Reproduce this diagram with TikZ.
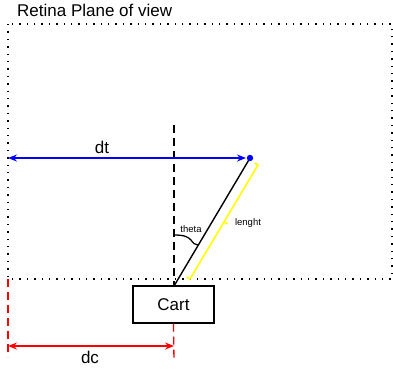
\documentclass[tikz,border=0pt]{standalone}
\usepackage{fontspec}
\setmainfont{Liberation Sans}
\usetikzlibrary{arrows.meta}
\tikzset{
  x=1pt,y=-1pt,
  dotline/.style={line width=1.6pt,dash pattern=on 1.4pt off 6pt},
  dashline/.style={line width=1.3pt,dash pattern=on 8pt off 5pt},
  lbl/.style={font=\fontsize{17}{19}\selectfont,inner sep=0pt},
  small/.style={font=\fontsize{9.5}{11}\selectfont,inner sep=0pt},
  arr/.style={line width=1.5pt,{Stealth[length=9pt,width=7pt,inset=3pt]}-{Stealth[length=9pt,width=7pt,inset=3pt]}},
}
\definecolor{myblue}{RGB}{0,0,255}
\definecolor{myred}{RGB}{255,0,0}
\definecolor{myyellow}{RGB}{255,255,0}
\begin{document}
\begin{tikzpicture}
\useasboundingbox (0,0) rectangle (393,368);
% retina plane
\draw[dotline] (8,24) rectangle (392,279);
\node[lbl,anchor=base west] (title) at (17,16) {Retina Plane of view};
% cart
\node[draw,line width=1.3pt,minimum width=81pt,minimum height=37pt,inner sep=0pt,lbl] (cart) at (173.5,304.5) {Cart};
% dashed vertical axis
\coordinate (axtop) at (174,125);
\coordinate (pivot) at (174,286);
\draw[dashline] (axtop) -- (pivot);
% pole
\coordinate (tip) at (250,158);
\draw[line width=1.4pt] (pivot) -- (tip);
\fill[myblue] (tip) circle (3.2pt);
% dt
\coordinate (dtl) at (8,158);
\draw[arr,myblue] (dtl) -- (246,158);
\node[lbl] (dt) at (102,147) {dt};
% lenght bracket
\coordinate (yt) at (258,165);
\coordinate (yb) at (190,279);
\draw[myyellow,line width=1.6pt,line join=miter] (254.6,163) -- (yt) -- (yb) -- (186.6,277);
\draw[myyellow,line width=1.6pt] (224,222) -- (227.6,224);
\node[small] (len) at (248,223) {lenght};
% theta brace
\draw[line width=1.3pt] (174,235) .. controls (185,235) and (188,237) .. (191,240) .. controls (193,243) and (195,245) .. (198,245);
\node[small] (th) at (191,229) {theta};
% dc
\coordinate (dcl) at (8,279);
\draw[dashline,myred] (dcl) -- (8,357);
\draw[dashline,myred] (cart.south) -- (174,362);
\draw[arr,myred] (8,346) -- (174,346);
\node[lbl] (dc) at (90,357) {dc};
\end{tikzpicture}
\end{document}
